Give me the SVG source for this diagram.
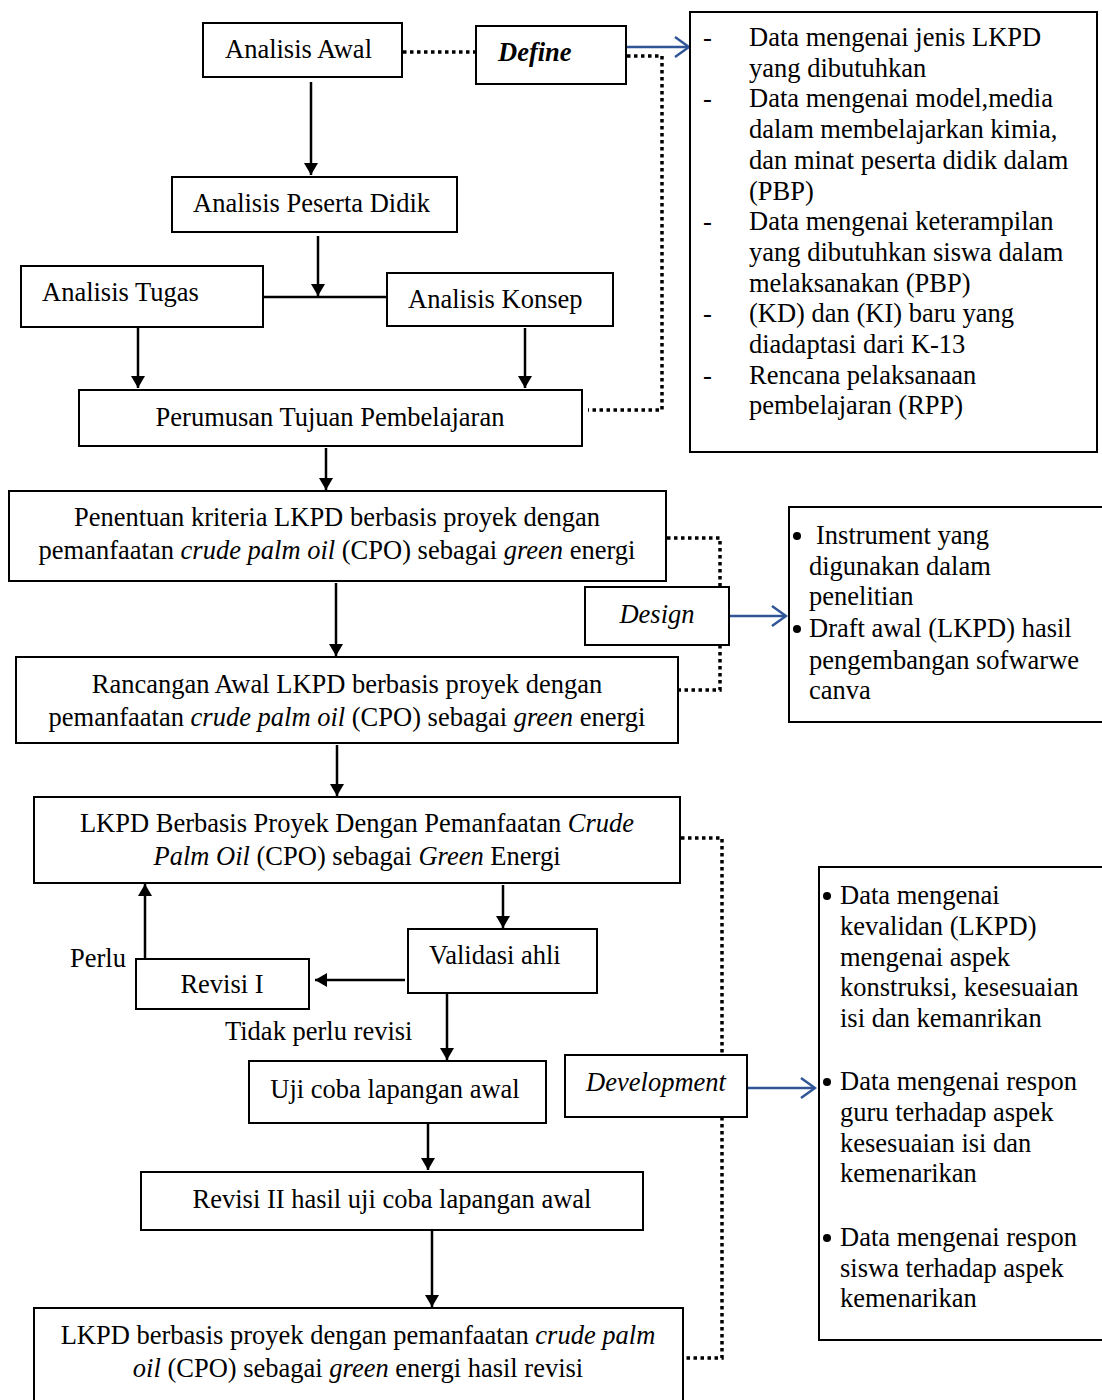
<svg xmlns="http://www.w3.org/2000/svg" width="1102" height="1400" viewBox="0 0 1102 1400">
<style>
text{font-family:"Liberation Serif","Times New Roman",serif;font-size:26.5px;fill:#000}
.box{fill:#fff;stroke:#000;stroke-width:2}
.ln{stroke:#000;stroke-width:2.5;fill:none}
.dot{stroke:#000;stroke-width:3.5;fill:none;stroke-dasharray:3.5 3.5}
.blue{stroke:#2f5597;stroke-width:2.5;fill:none}
.m{text-anchor:middle}
</style>
<defs>
<marker id="ah" markerWidth="12" markerHeight="16" refX="12" refY="8" orient="auto" markerUnits="userSpaceOnUse">
<path d="M0,1 L12,8 L0,15 Z" fill="#000"/>
</marker>
<marker id="bh" markerWidth="20" markerHeight="24" refX="18" refY="12" orient="auto" markerUnits="userSpaceOnUse">
<path d="M4,2 L18,12 L4,22" fill="none" stroke="#2f5597" stroke-width="2.5"/>
</marker>
</defs>

<g id="connectors">
<path class="ln" d="M311,82 V175" marker-end="url(#ah)"/>
<path class="ln" d="M318,236 V296" marker-end="url(#ah)"/>
<path class="ln" d="M263,297 H387"/>
<path class="ln" d="M138,328 V388" marker-end="url(#ah)"/>
<path class="ln" d="M525,328 V388" marker-end="url(#ah)"/>
<path class="ln" d="M326,448 V490" marker-end="url(#ah)"/>
<path class="ln" d="M336,583 V656" marker-end="url(#ah)"/>
<path class="ln" d="M337,745 V796" marker-end="url(#ah)"/>
<path class="ln" d="M503,885 V928" marker-end="url(#ah)"/>
<path class="ln" d="M405,980 H315" marker-end="url(#ah)"/>
<path class="ln" d="M145,959 V884" marker-end="url(#ah)"/>
<path class="ln" d="M447,994 V1060" marker-end="url(#ah)"/>
<path class="ln" d="M428,1124 V1170" marker-end="url(#ah)"/>
<path class="ln" d="M432,1231 V1307" marker-end="url(#ah)"/>
<path class="dot" d="M403,52 H476"/>
<path class="dot" d="M627,56 H662 V410 H588"/>
<path class="dot" d="M667,538 H720 V587"/>
<path class="dot" d="M720,645 V690 H679"/>
<path class="dot" d="M681,838 H722 V1055"/>
<path class="dot" d="M722,1117 V1358 H686"/>
<path class="blue" d="M627,47 H689" marker-end="url(#bh)"/>
<path class="blue" d="M729,616 H786" marker-end="url(#bh)"/>
<path class="blue" d="M747,1088 H815" marker-end="url(#bh)"/>
</g>

<g id="analisis-awal"><rect class="box" x="203" y="23" width="199" height="54"/><text x="225" y="58">Analisis Awal</text></g>
<g id="define"><rect class="box" x="476" y="26" width="150" height="58"/><text x="498" y="61" font-weight="bold" font-style="italic">Define</text></g>
<g id="analisis-peserta"><rect class="box" x="172" y="177" width="285" height="55"/><text x="193" y="212">Analisis Peserta Didik</text></g>
<g id="analisis-tugas"><rect class="box" x="21" y="266" width="242" height="61"/><text x="42" y="301">Analisis Tugas</text></g>
<g id="analisis-konsep"><rect class="box" x="387" y="273" width="226" height="53"/><text x="408" y="308">Analisis Konsep</text></g>
<g id="perumusan"><rect class="box" x="79" y="390" width="503" height="56"/><text class="m" x="330" y="426">Perumusan Tujuan Pembelajaran</text></g>
<g id="penentuan"><rect class="box" x="9" y="491" width="657" height="90"/>
<text class="m" x="337" y="526">Penentuan kriteria LKPD berbasis proyek dengan</text>
<text class="m" x="337" y="559">pemanfaatan <tspan font-style="italic">crude palm oil</tspan> (CPO) sebagai <tspan font-style="italic">green</tspan> energi</text></g>
<g id="design"><rect class="box" x="585" y="587" width="144" height="58"/><text class="m" x="657" y="623" font-style="italic">Design</text></g>
<g id="rancangan"><rect class="box" x="16" y="657" width="662" height="86"/>
<text class="m" x="347" y="693">Rancangan Awal LKPD berbasis proyek dengan</text>
<text class="m" x="347" y="726">pemanfaatan <tspan font-style="italic">crude palm oil</tspan> (CPO) sebagai <tspan font-style="italic">green</tspan> energi</text></g>
<g id="lkpd"><rect class="box" x="34" y="797" width="646" height="86"/>
<text class="m" x="357" y="832">LKPD Berbasis Proyek Dengan Pemanfaatan <tspan font-style="italic">Crude</tspan></text>
<text class="m" x="357" y="865"><tspan font-style="italic">Palm Oil</tspan> (CPO) sebagai <tspan font-style="italic">Green</tspan> Energi</text></g>
<g id="validasi"><rect class="box" x="408" y="929" width="189" height="64"/><text x="429" y="964">Validasi ahli</text></g>
<g id="revisi1"><rect class="box" x="136" y="959" width="173" height="50"/><text class="m" x="222" y="993">Revisi I</text></g>
<g id="label-perlu"><text x="70" y="967">Perlu</text></g>
<g id="label-tidak"><text x="225" y="1040">Tidak perlu revisi</text></g>
<g id="development"><rect class="box" x="565" y="1055" width="182" height="62"/><text class="m" x="656" y="1091" font-style="italic">Development</text></g>
<g id="ujicoba"><rect class="box" x="249" y="1061" width="297" height="62"/><text class="m" x="395" y="1098">Uji coba lapangan awal</text></g>
<g id="revisi2"><rect class="box" x="141" y="1172" width="502" height="58"/><text class="m" x="392" y="1208">Revisi II hasil uji coba lapangan awal</text></g>
<g id="final"><rect class="box" x="34" y="1308" width="649" height="100"/>
<text class="m" x="358" y="1344">LKPD berbasis proyek dengan pemanfaatan <tspan font-style="italic">crude palm</tspan></text>
<text class="m" x="358" y="1377"><tspan font-style="italic">oil</tspan> (CPO) sebagai <tspan font-style="italic">green</tspan> energi hasil revisi</text></g>

<g id="define-data"><rect class="box" x="690" y="12" width="407" height="440"/>
<text x="703" y="46">-</text><text x="749" y="46">Data mengenai jenis LKPD</text>
<text x="749" y="77">yang dibutuhkan</text>
<text x="703" y="107">-</text><text x="749" y="107">Data mengenai model,media</text>
<text x="749" y="138">dalam membelajarkan kimia,</text>
<text x="749" y="169">dan minat peserta didik dalam</text>
<text x="749" y="200">(PBP)</text>
<text x="703" y="230">-</text><text x="749" y="230">Data mengenai keterampilan</text>
<text x="749" y="261">yang dibutuhkan siswa dalam</text>
<text x="749" y="292">melaksanakan (PBP)</text>
<text x="703" y="322">-</text><text x="749" y="322">(KD) dan (KI) baru yang</text>
<text x="749" y="353">diadaptasi dari K-13</text>
<text x="703" y="384">-</text><text x="749" y="384">Rencana pelaksanaan</text>
<text x="749" y="414">pembelajaran (RPP)</text>
</g>
<g id="design-data"><rect class="box" x="789" y="507" width="320" height="215"/>
<circle cx="797" cy="536" r="4"/><text x="816" y="544">Instrument yang</text>
<text x="809" y="575">digunakan dalam</text>
<text x="809" y="605">penelitian</text>
<circle cx="797" cy="629" r="4"/><text x="809" y="637">Draft awal (LKPD) hasil</text>
<text x="809" y="669">pengembangan sofwarwe</text>
<text x="809" y="699">canva</text>
</g>
<g id="development-data"><rect class="box" x="819" y="867" width="290" height="473"/>
<circle cx="827" cy="896" r="4"/><text x="840" y="904">Data mengenai</text>
<text x="840" y="935">kevalidan (LKPD)</text>
<text x="840" y="966">mengenai aspek</text>
<text x="840" y="996">konstruksi, kesesuaian</text>
<text x="840" y="1027">isi dan kemanrikan</text>
<circle cx="827" cy="1082" r="4"/><text x="840" y="1090">Data mengenai respon</text>
<text x="840" y="1121">guru terhadap aspek</text>
<text x="840" y="1152">kesesuaian isi dan</text>
<text x="840" y="1182">kemenarikan</text>
<circle cx="827" cy="1238" r="4"/><text x="840" y="1246">Data mengenai respon</text>
<text x="840" y="1277">siswa terhadap aspek</text>
<text x="840" y="1307">kemenarikan</text>
</g>
</svg>
